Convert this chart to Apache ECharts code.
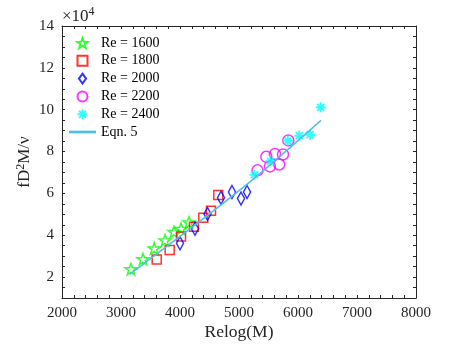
<!DOCTYPE html>
<html lang="en">
<head>
  <meta charset="UTF-8">
  <title>fD2M/nu vs Relog(M)</title>
  <script src="https://cdn.jsdelivr.net/npm/echarts@6/dist/echarts.min.js"></script>
</head>
<body style="margin:0">
<div id="main" style="width:461px;height:346px;"></div>
<script>
  var myChart = echarts.init(document.getElementById('main'));

  // data, y in units of 1e4
  var re1600 = [[3169, 2.38], [3373, 2.86], [3564, 3.37], [3746, 3.76], [3898, 4.16], [4017, 4.31], [4153, 4.62]];
  var re1800 = [[3605, 2.84], [3825, 3.30], [4017, 3.94], [4237, 4.40], [4395, 4.84], [4525, 5.17], [4649, 5.92]];
  var re2000 = [[4000, 3.62], [4254, 4.31], [4466, 5.02], [4695, 5.79], [4881, 6.07], [5034, 5.76], [5136, 6.07]];
  var re2200 = [[5314, 7.10], [5463, 7.75], [5610, 7.88], [5746, 7.86], [5525, 7.29], [5681, 7.38], [5836, 8.53]];
  var re2400 = [[5263, 6.89], [5534, 7.53], [5827, 8.51], [6022, 8.76], [6203, 8.80], [6385, 10.12]];
  var eqn5 = [[3153, 2.14], [4339, 4.67], [5237, 6.67], [6390, 9.49]];
  var names = ['Re = 1600', 'Re = 1800', 'Re = 2000', 'Re = 2200', 'Re = 2400', 'Eqn. 5'];

  var serif = 'Liberation Serif';
  var starPath = 'path://M0,-10L2.35,-3.24L9.51,-3.09L3.8,1.24L5.88,8.09L0,4L-5.88,8.09L-3.8,1.24L-9.51,-3.09L-2.35,-3.24Z';
  var astPath = 'path://M0,-10L0,10M-10,0L10,0M-7,-7L7,7M-7,7L7,-7';
  var squarePath = 'path://M-5,-5L5,-5L5,5L-5,5Z';
  var diamondPath = 'path://M0,-7L5,0L0,7L-5,0Z';
  var dashPath = 'path://M0,0L10,0L10,1L0,1Z';

  function scatter(name, data, symbol, size, color, width) {
    return {
      name: name,
      type: 'scatter',
      data: data,
      symbol: symbol,
      symbolSize: size,
      symbolKeepAspect: true,
      itemStyle: { color: 'rgba(0,0,0,0)', borderColor: color, borderWidth: width },
      emphasis: { disabled: true }
    };
  }

  function boxAxis(pos, min, max, interval, split, show) {
    return {
      type: 'value', position: pos, min: min, max: max, interval: interval,
      axisLine: { show: true, onZero: false, lineStyle: { color: '#262626', width: 1 } },
      axisTick: { show: true, inside: true, length: 3, lineStyle: { color: '#262626' } },
      minorTick: { show: split > 0, splitNumber: split, length: 3, lineStyle: { color: '#262626' } },
      splitLine: { show: false },
      axisLabel: { show: show, color: '#262626', fontFamily: serif, fontSize: 15 }
    };
  }

  var xBottom = boxAxis('bottom', 2000, 8000, 1000, 5, true);
  xBottom.axisLabel.margin = 8;
  xBottom.axisLabel.formatter = function (v) { return String(v); };
  xBottom.name = 'Relog(M)';
  xBottom.nameLocation = 'middle';
  xBottom.nameGap = 25;
  xBottom.nameMoveOverlap = false;
  xBottom.nameTextStyle = { color: '#262626', fontFamily: serif, fontSize: 17.5 };
  var xTop = boxAxis('top', 2000, 8000, 1000, 5, false);

  var yLeft = boxAxis('left', 1, 14, 0.5, 0, true);
  yLeft.axisLabel.margin = 8;
  yLeft.axisLabel.formatter = function (v) { return v % 2 === 0 ? String(v) : ''; };
  yLeft.name = '{n|fD}{s|2}{n|M/ν}';
  yLeft.nameLocation = 'middle';
  yLeft.nameGap = 28;
  yLeft.nameMoveOverlap = false;
  yLeft.nameTextStyle = {
    rich: {
      n: { color: '#262626', fontFamily: serif, fontSize: 17 },
      s: { color: '#262626', fontFamily: serif, fontSize: 12, verticalAlign: 'top', padding: [0, 0, 7, 0] }
    }
  };
  var yRight = boxAxis('right', 1, 14, 0.5, 0, false);

  option = {
    animation: false,
    grid: { left: 62, right: 45, top: 26, bottom: 47 },
    xAxis: [xBottom, xTop],
    yAxis: [yLeft, yRight],
    legend: {
      orient: 'vertical',
      left: 64,
      top: 31,
      itemWidth: 27,
      itemHeight: 10,
      itemGap: 3.8,
      data: names.slice(0, 5).concat([{ name: names[5], icon: dashPath }]),
      textStyle: { color: '#000', fontFamily: serif, fontSize: 14 }
    },
    graphic: [{
      type: 'text',
      left: 62,
      top: 6,
      style: {
        text: '×10{s|4}',
        fill: '#262626',
        font: '17px "Liberation Serif"',
        rich: { s: { fontSize: 12, fontFamily: serif, fill: '#262626', verticalAlign: 'top', padding: [0, 0, 9, 0] } }
      }
    }],
    series: [
      scatter(names[0], re1600, starPath, 12, '#00ff00', 1.5),
      scatter(names[1], re1800, squarePath, 9, '#ff0000', 1.5),
      scatter(names[2], re2000, diamondPath, [10, 13], '#0000ff', 1.5),
      scatter(names[3], re2200, 'circle', 11, '#ff00ff', 1.5),
      scatter(names[4], re2400, astPath, 10, '#00ffff', 2),
      {
        name: names[5],
        type: 'line',
        data: eqn5,
        smooth: 0.3,
        showSymbol: false,
        symbol: 'none',
        lineStyle: { color: '#4dbeee', width: 1.5 },
        itemStyle: { color: '#4dbeee' }
      }
    ]
  };

  myChart.setOption(option);
</script>
</body>
</html>
